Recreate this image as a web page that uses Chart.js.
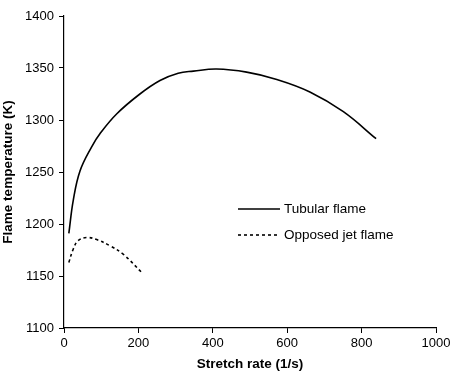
<!DOCTYPE html>
<html>
<head>
<meta charset="utf-8">
<script src="https://cdn.jsdelivr.net/npm/chart.js@4/dist/chart.umd.min.js"></script>
<style>
  html, body { margin: 0; padding: 0; background: #fff; }
  #wrap { width: 456px; height: 372px; }
</style>
</head>
<body>
<div id="wrap"><canvas id="chart" width="456" height="372"></canvas></div>
<script>
// data
const tubularRate = [13, 25, 43, 74, 97, 142, 204, 258, 307, 348, 410, 491, 572, 661, 751, 839];
const tubularTemp = [1191, 1223, 1251, 1274, 1287, 1306, 1325, 1338, 1345, 1347, 1349, 1346, 1339, 1327, 1308, 1282];
const jetRate = [13, 25, 38, 61, 88, 124, 159, 210];
const jetTemp = [1163, 1176, 1184, 1187, 1185, 1179, 1171, 1153];
const seriesNames = ['Tubular flame', 'Opposed jet flame'];
const xTicks = [0, 200, 400, 600, 800, 1000];
const yTicks = [1100, 1150, 1200, 1250, 1300, 1350, 1400];

const toPoints = (xs, ys) => xs.map((x, i) => ({ x: x, y: ys[i] }));
const FONT = '"Liberation Sans", Arial, sans-serif';

// legend drawn inside the plot, like the original
const insideLegend = {
    id: 'insideLegend',
    afterDraw(chart) {
        const ctx = chart.ctx;
        const rowsY = [209, 235];
        ctx.save();
        ctx.font = '13.5px ' + FONT;
        ctx.fillStyle = '#000';
        ctx.textBaseline = 'middle';
        chart.data.datasets.forEach((ds, i) => {
            ctx.strokeStyle = '#000';
            ctx.lineWidth = ds.borderWidth;
            ctx.setLineDash(ds.borderDash || []);
            ctx.beginPath();
            ctx.moveTo(238, rowsY[i]);
            ctx.lineTo(280, rowsY[i]);
            ctx.stroke();
            ctx.setLineDash([]);
            ctx.fillText(ds.label, 284, rowsY[i]);
        });
        ctx.restore();
    }
};

new Chart(document.getElementById('chart'), {
    type: 'line',
    data: {
        datasets: [{
            label: seriesNames[0],
            data: toPoints(tubularRate, tubularTemp),
            borderColor: '#000',
            borderWidth: 1.6,
            pointRadius: 0,
            tension: 0.4,
            fill: false
        }, {
            label: seriesNames[1],
            data: toPoints(jetRate, jetTemp),
            borderColor: '#000',
            borderWidth: 1.6,
            borderDash: [3, 3],
            pointRadius: 0,
            tension: 0.4,
            fill: false
        }]
    },
    options: {
        responsive: false,
        animation: false,
        layout: { padding: { left: 0, right: 20, top: 16, bottom: 0 } },
        plugins: {
            legend: { display: false },
            tooltip: { enabled: false }
        },
        scales: {
            x: {
                type: 'linear',
                min: 0,
                max: 1000,
                afterBuildTicks: (scale) => { scale.ticks = xTicks.map(v => ({ value: v })); },
                afterFit: (scale) => { scale.height = 44; },
                grid: { drawOnChartArea: false, drawTicks: true, tickLength: 5, color: '#000' },
                border: { color: '#000', width: 1.2 },
                ticks: { color: '#000', padding: 3, maxRotation: 0, callback: (v) => String(v), font: { family: FONT, size: 13 } },
                title: {
                    display: true,
                    text: 'Stretch rate (1/s)',
                    color: '#000',
                    padding: { top: 0, bottom: 0 },
                    font: { family: FONT, size: 13.5, weight: 'bold' }
                }
            },
            y: {
                type: 'linear',
                min: 1100,
                max: 1400,
                afterBuildTicks: (scale) => { scale.ticks = yTicks.map(v => ({ value: v })); },
                afterFit: (scale) => { scale.width = 64; },
                grid: { drawOnChartArea: false, drawTicks: true, tickLength: 5, color: '#000' },
                border: { color: '#000', width: 1.2 },
                ticks: { color: '#000', padding: 5, callback: (v) => String(v), font: { family: FONT, size: 13 } },
                title: {
                    display: true,
                    text: 'Flame temperature (K)',
                    color: '#000',
                    padding: { top: 0, bottom: 0 },
                    font: { family: FONT, size: 13.5, weight: 'bold' }
                }
            }
        }
    },
    plugins: [insideLegend]
});
</script>
</body>
</html>
